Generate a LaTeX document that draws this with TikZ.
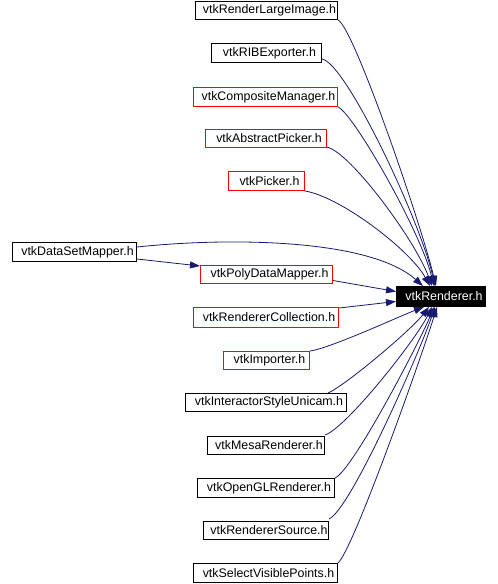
\documentclass[tikz,border=0pt]{standalone}
\usepackage{fontspec}
\setmainfont{Liberation Sans}
\usetikzlibrary{arrows.meta}
\definecolor{edgeblue}{RGB}{25,25,112}
\tikzset{
  box/.style={draw=black, line width=1pt, inner sep=0pt, anchor=north west,
    font=\fontsize{12.4}{14}\selectfont, text=black},
  redbox/.style={box, draw=red},
  rootbox/.style={box, fill=black, text=white},
  dep/.style={draw=edgeblue, line width=0.8pt, -{Triangle[length=10pt,width=7pt]}},
}
\newcommand{\bx}[6]{\node[#1, minimum width=#4pt-#2pt, minimum height=#5pt-#3pt] (#6) at (#2,#3)}
\begin{document}
\begin{tikzpicture}[x=1pt,y=-1pt]
\useasboundingbox (0,0) rectangle (498,584);
\bx{box}{195}{1}{337}{19}{n1} {\hspace*{6pt}vtkRenderLargeImage.h};
\bx{box}{211}{43}{321}{62}{n2} {\hspace*{6pt}vtkRIBExporter.h};
\bx{redbox}{193}{87}{337}{106}{n3} {\hspace*{6pt}vtkCompositeManager.h};
\bx{redbox}{205}{129}{326}{147}{n4} {\hspace*{6pt}vtkAbstractPicker.h};
\bx{redbox}{228}{171}{304}{190}{n5} {\hspace*{6pt}vtkPicker.h};
\bx{box}{12}{242}{136}{261}{n6} {\hspace*{6pt}vtkDataSetMapper.h};
\bx{redbox}{200}{265}{332}{283}{n7} {\hspace*{6pt}vtkPolyDataMapper.h};
\bx{rootbox}{396}{286}{485}{306}{r} {\hspace*{6pt}vtkRenderer.h};
\bx{redbox}{193}{307}{338}{327}{n9} {\hspace*{6pt}vtkRendererCollection.h};
\bx{redbox}{223}{351}{309}{369}{n10} {\hspace*{6pt}vtkImporter.h};
\bx{box}{185}{393}{346}{411}{n11} {\hspace*{6pt}vtkInteractorStyleUnicam.h};
\bx{box}{207}{436}{324}{454}{n12} {\hspace*{6pt}vtkMesaRenderer.h};
\bx{box}{197}{478}{334}{497}{n13} {\hspace*{6pt}vtkOpenGLRenderer.h};
\bx{box}{203}{521}{328}{539}{n14} {\hspace*{6pt}vtkRendererSource.h};
\bx{box}{193}{563}{337}{582}{n15} {\hspace*{6pt}vtkSelectVisiblePoints.h};
% upper edges
\path[dep] (n1.south east) .. controls +(15,6) and +(-16,-66) .. ([xshift=40pt]r.north west);
\path[dep] ([yshift=4pt]n2.south east) .. controls +(24,4) and +(-15,-66) .. ([xshift=39pt]r.north west);
\path[dep] (n3.south east) .. controls +(15,6) and +(-14,-56) .. ([xshift=38pt]r.north west);
\path[dep] ([yshift=1pt]n4.south east) .. controls +(24,6) and +(-17,-46) .. ([xshift=36pt]r.north west);
\path[dep] (n5.south east) .. controls +(36,6) and +(-20,-36) .. ([xshift=34pt]r.north west);
\path[dep] ([yshift=5pt]n6.east) .. controls +(94,-10) and +(-53,-47) .. ([xshift=27pt]r.north west);
\path[dep] ([yshift=-7pt]n6.east) -- ([yshift=-1pt]n7.north west);
\path[dep] ([yshift=-6pt]n7.east) -- ([yshift=5pt]r.west);
\path[dep] ([yshift=-1pt]n9.north east) -- ([yshift=-5pt]r.west);
% lower edges
\path[dep] (n10.north east) .. controls +(21,-3) and +(-24,9) .. ([xshift=28pt]r.south west);
\path[dep] ([xshift=-19pt]n11.north east) .. controls +(18,-8) and +(-19,24) .. ([xshift=33pt]r.south west);
\path[dep] ([yshift=1pt]n12.north east) .. controls +(21,-7) and +(-17,34) .. ([xshift=36pt]r.south west);
\path[dep] (n13.north east) .. controls +(18,-8) and +(-14,34) .. ([xshift=38pt]r.south west);
\path[dep] ([yshift=2pt]n14.north east) .. controls +(22,-10) and +(-15,44) .. ([xshift=39pt]r.south west);
\path[dep] (n15.north east) .. controls +(15,-13) and +(-17,54) .. ([xshift=41pt]r.south west);
\end{tikzpicture}
\end{document}
